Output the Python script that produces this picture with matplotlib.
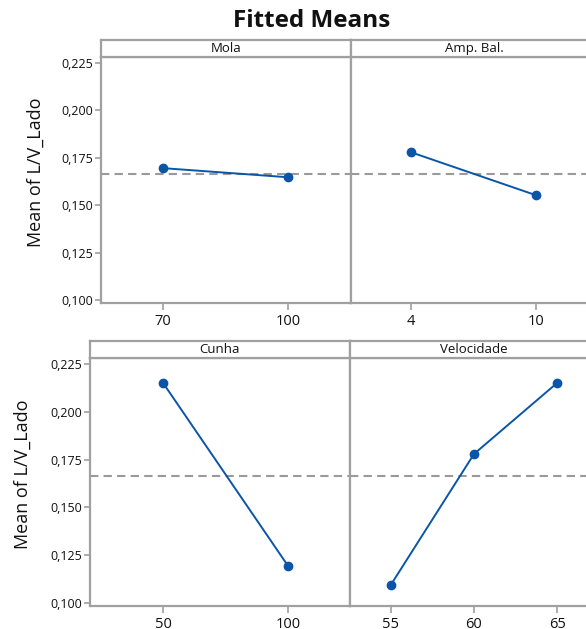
import matplotlib.pyplot as plt
from matplotlib.ticker import FuncFormatter

# fitted means
mola_levels = ['70', '100']
mola_means = [0.1695, 0.1647]
amp_levels = ['4', '10']
amp_means = [0.1779, 0.1553]
cunha_levels = ['50', '100']
cunha_means = [0.2151, 0.1194]
vel_levels = ['55', '60', '65']
vel_means = [0.1094, 0.1779, 0.2151]
grand_mean = 0.1665
y_ticks = [0.100, 0.125, 0.150, 0.175, 0.200, 0.225]

W, H = 586, 629
BLUE = '#0a55a8'
GREY = '#a0a0a0'
plt.rcParams['font.family'] = ['Open Sans', 'DejaVu Sans']


def rect(x0, y0, x1, y1):
    # pixel box (top-left origin) -> figure fraction
    return [x0 / W, 1 - y1 / H, (x1 - x0) / W, (y1 - y0) / H]


def panel(fig, box, xlim, title, levels, means, first):
    x0, y0, x1, y1 = box
    ax = fig.add_axes(rect(x0, y0, x1, y1))
    pos = list(range(len(levels)))
    ax.axhline(grand_mean, color='#9a9a9a', lw=1.5, ls=(0, (4, 2.5)), zorder=1)
    ax.plot(pos, means, color=BLUE, lw=1.4, marker='o', ms=6, zorder=3)
    ax.set_xlim(*xlim)
    ax.set_ylim(0.0984, 0.2281)
    ax.set_xticks(pos)
    ax.set_xticklabels(levels)
    ax.set_yticks(y_ticks)
    ax.yaxis.set_major_formatter(FuncFormatter(lambda v, p: f'{v:.3f}'.replace('.', ',')))
    for s in ax.spines.values():
        s.set_color(GREY)
        s.set_linewidth(1.6)
    ax.tick_params(axis='x', length=5, width=1.2, color=GREY, labelsize=10.5,
                   labelcolor='#111111', pad=3)
    ax.tick_params(axis='y', length=4, width=1.2, color=GREY, labelsize=9,
                   labelcolor='#111111', pad=2)
    if not first:
        ax.tick_params(axis='y', left=False, labelleft=False)

    # strip header
    st = fig.add_axes(rect(x0, y0 - 17, x1, y0))
    st.set_xticks([])
    st.set_yticks([])
    for s in st.spines.values():
        s.set_color(GREY)
        s.set_linewidth(1.6)
    st.text(0.5, 0.5, title, ha='center', va='center', fontsize=9.5,
            color='#111111', transform=st.transAxes)
    return ax


fig = plt.figure(figsize=(W / 100, H / 100), dpi=100)

panel(fig, (101, 57, 351, 303), (-0.496, 1.504), 'Mola', mola_levels, mola_means, True)
panel(fig, (351, 57, 598, 303), (-0.48, 1.5), 'Amp. Bal.', amp_levels, amp_means, False)
panel(fig, (90, 358, 350, 606), (-0.584, 1.496), 'Cunha', cunha_levels, cunha_means, True)
panel(fig, (350, 358, 598, 606), (-0.49, 2.49), 'Velocidade', vel_levels, vel_means, False)

fig.text(312 / W, 1 - 21 / H, 'Fitted Means', ha='center', va='center',
         fontsize=17.5, fontweight='bold', color='#111111')
fig.text(36 / W, 1 - 172 / H, 'Mean of L/V_Lado', rotation=90, ha='center',
         va='center', fontsize=13, color='#111111')
fig.text(23 / W, 1 - 474 / H, 'Mean of L/V_Lado', rotation=90, ha='center',
         va='center', fontsize=13, color='#111111')

fig.savefig('out.png', dpi=100)
